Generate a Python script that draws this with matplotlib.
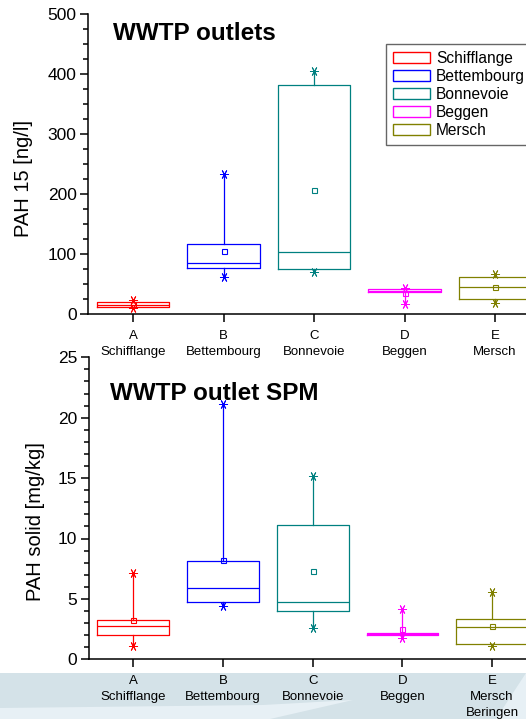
import matplotlib
matplotlib.use('Agg')
import matplotlib.pyplot as plt
from matplotlib.patches import Rectangle, Polygon
from matplotlib.ticker import MultipleLocator

plt.rcParams['font.family'] = ['Liberation Sans', 'DejaVu Sans']

plants = ['Schifflange', 'Bettembourg', 'Bonnevoie', 'Beggen', 'Mersch']
colors = ['#ff0000', '#0000ff', '#008080', '#ff00ff', '#808000']
labels_top = ['A\nSchifflange', 'B\nBettembourg', 'C\nBonnevoie', 'D\nBeggen', 'E\nMersch']
labels_bot = ['A\nSchifflange', 'B\nBettembourg', 'C\nBonnevoie', 'D\nBeggen', 'E\nMersch\nBeringen']

# WWTP outlets, PAH 15 [ng/l]
water_q1 = [12, 77, 76, 37, 25]
water_med = [15, 85, 104, 39.5, 46]
water_q3 = [20, 117, 382, 41.6, 61.6]
water_min = [10, 62, 70, 16.7, 19.5]
water_max = [24, 233, 405, 43, 67]
water_mean = [17, 105, 207, 36, 46]

# WWTP outlet SPM, PAH solid [mg/kg]
spm_q1 = [2.04, 4.74, 4.0, 1.99, 1.27]
spm_med = [2.78, 5.87, 4.72, 2.1, 2.7]
spm_q3 = [3.28, 8.11, 11.09, 2.2, 3.36]
spm_min = [1.1, 4.41, 2.62, 1.76, 1.1]
spm_max = [7.17, 21.1, 15.17, 4.14, 5.6]
spm_mean = [3.28, 8.22, 7.31, 2.48, 2.78]

W, H = 526, 719
fig = plt.figure(figsize=(W / 100, H / 100), dpi=100)

# slide background band at the bottom
fig.add_artist(Rectangle((0, 0), 1, (H - 673) / H, transform=fig.transFigure,
                         facecolor='#d4e2e8', edgecolor='none', zorder=0))
def px(pts):
    return [(x / W, 1 - y / H) for x, y in pts]
fig.add_artist(Polygon(px([(0, 708), (263, 705), (353, 700), (270, 719), (0, 719)]),
                       closed=True, transform=fig.transFigure,
                       facecolor='#e7f0f5', edgecolor='none', zorder=0))
fig.add_artist(Polygon(px([(526, 673), (496, 719), (526, 719)]),
                       closed=True, transform=fig.transFigure,
                       facecolor='#e7f0f5', edgecolor='none', zorder=0))

ax1 = fig.add_axes([87.75 / W, 1 - 314.3 / H, 452.5 / W, 300.3 / H])
ax2 = fig.add_axes([88.5 / W, 1 - 659.3 / H, 448.4 / W, 302 / H])
for a in (ax1, ax2):
    a.patch.set_alpha(0)


def draw_boxes(ax, q1, med, q3, lo, hi, mean):
    pos = range(1, len(q1) + 1)
    for i, p in enumerate(pos):
        stats = [dict(q1=q1[i], med=med[i], q3=q3[i], whislo=lo[i], whishi=hi[i],
                      mean=mean[i], fliers=[])]
        c = colors[i]
        ax.bxp(stats, positions=[p], widths=0.8, showcaps=False, showmeans=True,
               boxprops=dict(color=c, linewidth=0.9),
               medianprops=dict(color=c, linewidth=0.9),
               whiskerprops=dict(color=c, linewidth=0.9),
               meanprops=dict(marker='s', markersize=3.6, markeredgecolor=c,
                              markerfacecolor='none', markeredgewidth=0.8),
               manage_ticks=False)
        # min / max stars
        ax.plot([p, p], [lo[i], hi[i]], ls='none', marker=(6, 2, 90), markersize=6.5,
                color=c, markeredgewidth=0.7)


def style_axis(ax, labels):
    ax.set_xlim(0.5, 5.5)
    ax.set_xticks(range(1, 6))
    ax.set_xticklabels(labels, fontsize=9.5, linespacing=1.45)
    ax.spines['top'].set_visible(False)
    ax.spines['right'].set_visible(False)
    ax.spines['left'].set_linewidth(1.1)
    ax.spines['bottom'].set_linewidth(1.1)
    ax.tick_params(axis='both', which='major', direction='out', length=6, width=1.1)
    ax.tick_params(axis='y', which='minor', direction='out', length=3.5, width=1.1)
    ax.tick_params(axis='y', labelsize=12.5, pad=2)
    ax.tick_params(axis='x', pad=5)


draw_boxes(ax1, water_q1, water_med, water_q3, water_min, water_max, water_mean)
style_axis(ax1, labels_top)
ax1.set_ylim(0, 500)
ax1.yaxis.set_major_locator(MultipleLocator(100))
ax1.yaxis.set_minor_locator(MultipleLocator(25))
ax1.set_ylabel('PAH 15 [ng/l]', fontsize=14.5)
ax1.yaxis.set_label_coords(-0.12, 0.453)

draw_boxes(ax2, spm_q1, spm_med, spm_q3, spm_min, spm_max, spm_mean)
style_axis(ax2, labels_bot)
ax2.set_ylim(0, 25)
ax2.yaxis.set_major_locator(MultipleLocator(5))
ax2.yaxis.set_minor_locator(MultipleLocator(1))
ax2.set_ylabel('PAH solid [mg/kg]', fontsize=14.5)
ax2.yaxis.set_label_coords(-0.097, 0.455)

fig.text(113 / W, 1 - 33 / H, 'WWTP outlets', fontsize=17.5, fontweight='bold',
         ha='left', va='center')
fig.text(110 / W, 1 - 393 / H, 'WWTP outlet SPM', fontsize=17.5, fontweight='bold',
         ha='left', va='center')

handles = [Rectangle((0, 0), 1, 1, facecolor='white', edgecolor=c, linewidth=1.0)
           for c in colors]
leg = ax1.legend(handles, plants, loc='upper left',
                 bbox_to_anchor=(386 / W, 1 - 43.7 / H), bbox_transform=fig.transFigure,
                 fontsize=11.2, frameon=True, fancybox=False, borderaxespad=0,
                 handlelength=2.4, handleheight=0.75, handletextpad=0.35,
                 labelspacing=0.2, borderpad=0.45)
leg.get_frame().set_edgecolor('#404040')
leg.get_frame().set_linewidth(1.0)

fig.savefig('out.png', dpi=100)
